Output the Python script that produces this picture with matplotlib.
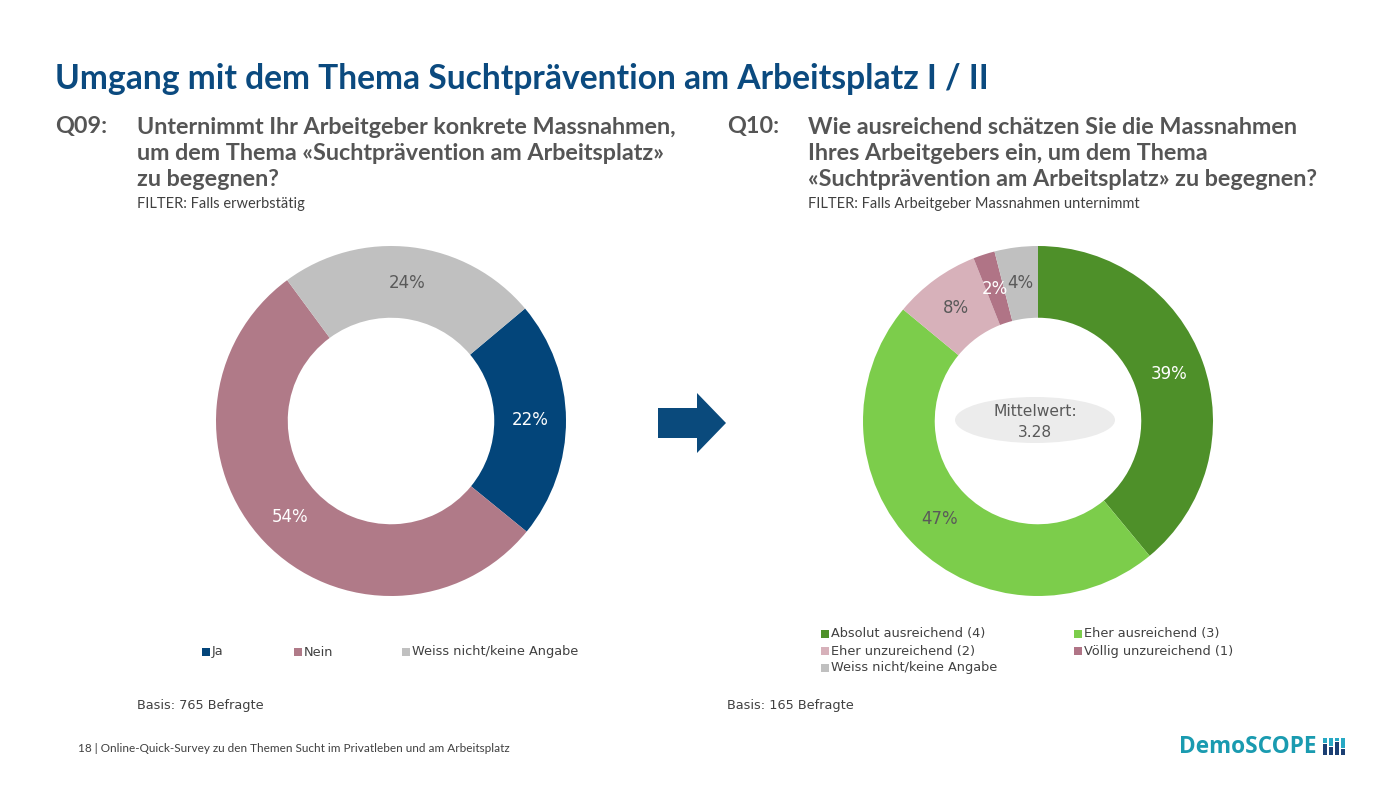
import matplotlib
matplotlib.use("Agg")
import matplotlib.pyplot as plt
from matplotlib.patches import Ellipse, FancyArrow, Rectangle

# ---------------- data ----------------
q09_labels = ["Ja", "Nein", "Weiss nicht/keine Angabe"]
q09_values = [22, 54, 24]
q09_colors = ["#03457a", "#b07a88", "#c0c0c0"]
q09_text_colors = ["white", "white", "#595959"]

q10_labels = ["Absolut ausreichend (4)", "Eher ausreichend (3)", "Eher unzureichend (2)",
              "Völlig unzureichend (1)", "Weiss nicht/keine Angabe"]
q10_values = [39, 47, 8, 2, 4]
q10_colors = ["#4e9029", "#7ccd4b", "#d7b1ba", "#b07486", "#c0c0c0"]
q10_text_colors = ["white", "#595959", "#595959", "white", "#595959"]
q10_mean = 3.28

basis_q09 = 765
basis_q10 = 165

W, H = 1400, 787
fig = plt.figure(figsize=(W / 100, H / 100), dpi=100)
fig.patch.set_facecolor("white")

HEAD = ["Lato", "DejaVu Sans"]
BODY = ["DejaVu Sans"]


def fx(x):
    return x / W


def fy(y):
    return 1 - y / H


def txt(x, y, s, size, color="#404040", weight="normal", family=BODY, ha="left", va="center", **kw):
    fig.text(fx(x), fy(y), s, fontsize=size, color=color, fontweight=weight,
             family=family, ha=ha, va=va, **kw)


# ---------------- titles ----------------
txt(55, 79, "Umgang mit dem Thema Suchtprävention am Arbeitsplatz I / II", 24.2,
    color="#0b4a7f", weight="bold", family=HEAD)

qcol = "#555555"
txt(55, 127, "Q09:", 16.8, color=qcol, weight="bold", family=HEAD)
for i, line in enumerate(["Unternimmt Ihr Arbeitgeber konkrete Massnahmen,",
                          "um dem Thema «Suchtprävention am Arbeitsplatz»",
                          "zu begegnen?"]):
    txt(137, 127 + i * 26.5, line, 16.8, color=qcol, weight="bold", family=HEAD)
txt(137, 204, "FILTER: Falls erwerbstätig", 10.5, color="#404040", family=HEAD)

txt(727, 127, "Q10:", 16.8, color=qcol, weight="bold", family=HEAD)
for i, line in enumerate(["Wie ausreichend schätzen Sie die Massnahmen",
                          "Ihres Arbeitgebers ein, um dem Thema",
                          "«Suchtprävention am Arbeitsplatz» zu begegnen?"]):
    txt(808, 127 + i * 26.5, line, 16.8, color=qcol, weight="bold", family=HEAD)
txt(808, 204, "FILTER: Falls Arbeitgeber Massnahmen unternimmt", 10.5, color="#404040", family=HEAD)


# ---------------- donuts ----------------
def donut(cx, cy, r, values, colors, tcolors, startangle):
    ax = fig.add_axes([fx(cx - r), fy(cy + r), 2 * r / W, 2 * r / H])
    wedges, _, autotexts = ax.pie(values, colors=colors, startangle=startangle, counterclock=False,
                                  radius=1.0, wedgeprops=dict(width=0.41, edgecolor="none"),
                                  autopct=lambda p: f"{p:.0f}%", pctdistance=0.795)
    for t, c in zip(autotexts, tcolors):
        t.set_color(c)
        t.set_fontsize(12)
        t.set_family(BODY)
    ax.set_xlim(-1, 1)
    ax.set_ylim(-1, 1)
    ax.set_aspect("equal")
    ax.axis("off")
    return ax


donut(391, 421, 175, q09_values, q09_colors, q09_text_colors, 40)
ax2 = donut(1038, 421, 175, q10_values, q10_colors, q10_text_colors, 90)

# Mittelwert bubble
ax2.add_patch(Ellipse((-3 / 175, 1 / 175), 160 / 175, 46 / 175, facecolor="#ececec", edgecolor="none", zorder=3))
ax2.text(-3 / 175, -1 / 175, f"Mittelwert:\n{q10_mean:.2f}", ha="center", va="center", fontsize=11.2,
         color="#595959", family=BODY, zorder=4, linespacing=1.45)

# arrow
axa = fig.add_axes([0, 0, 1, 1], facecolor="none")
axa.set_xlim(0, W)
axa.set_ylim(H, 0)
axa.axis("off")
axa.add_patch(FancyArrow(658, 423, 68, 0, width=30, head_width=60, head_length=29,
                         length_includes_head=True, color="#0a4a7c", linewidth=0))


# ---------------- legends ----------------
def legend_item(x, y, label, color, size=9.3):
    axa.add_patch(Rectangle((x - 4, y - 4), 8, 8, facecolor=color, edgecolor="none"))
    txt(x + 6, y, label, size, color="#404040", family=BODY)


for x, lab, col in zip([206, 298, 406], q09_labels, q09_colors):
    legend_item(x, 652, lab, col)

q10_pos = [(825, 634), (1078, 634), (825, 651), (1078, 651), (825, 668)]
for (x, y), lab, col in zip(q10_pos, q10_labels, q10_colors):
    legend_item(x, y, lab, col)

txt(137, 706, f"Basis: {basis_q09} Befragte", 9.3, color="#404040")
txt(727, 706, f"Basis: {basis_q10} Befragte", 9.3, color="#404040")

# ---------------- footer ----------------
txt(78, 748, "18 | Online-Quick-Survey zu den Themen Sucht im Privatleben und am Arbeitsplatz", 8.5,
    color="#404040", family=HEAD)
txt(1179, 747, "DemoSCOPE", 16.3, color="#1a9bb0", weight="bold", family=["Open Sans", "DejaVu Sans"])
# logo bars
bars = [(1323, 5, 12), (1329, 8, 9), (1335, 3, 14), (1341, 10, 7)]
for bx, top_h, bot_h in bars:
    axa.add_patch(Rectangle((bx, 738), 4, top_h, facecolor="#27a8c4", edgecolor="none"))
    axa.add_patch(Rectangle((bx, 738 + top_h + 1), 4, 17 - top_h - 1, facecolor="#1b3f73", edgecolor="none"))

fig.savefig("out.png", dpi=100, facecolor="white")
